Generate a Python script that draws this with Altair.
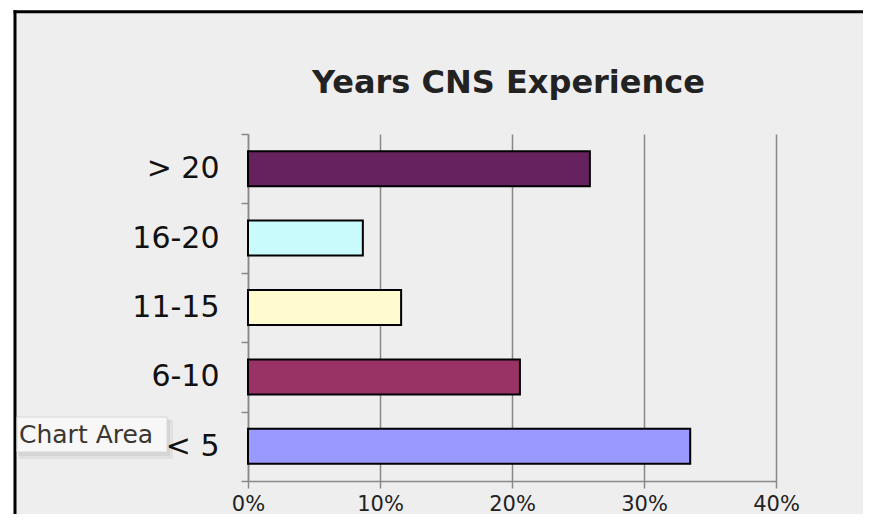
import altair as alt
import pandas as pd

categories = ["> 20", "16-20", "11-15", "6-10", "< 5"]
percents = [25.9, 8.7, 11.6, 20.6, 33.5]
bar_colors = ["#66215f", "#c9fbfc", "#fffbcf", "#993366", "#9999ff"]
x_tick_values = [0, 0.1, 0.2, 0.3, 0.4]
title_text = "Years CNS Experience"
tooltip_text = "Chart Area"

df = pd.DataFrame({
    "cat": categories,
    "pct": [p / 100 for p in percents],
    "color": bar_colors,
})
one = pd.DataFrame({"k": [0]})

W, H = 528, 347
FONT = "DejaVu Sans"

y_enc = alt.Y(
    "cat:N",
    sort=categories,
    scale=alt.Scale(paddingInner=0, paddingOuter=0),
    axis=alt.Axis(
        title=None,
        tickBand="extent",
        domainColor="#888888",
        domainWidth=1.5,
        tickColor="#888888",
        tickWidth=1.5,
        tickSize=7,
        labelFont=FONT,
        labelFontSize=30,
        labelColor="#111111",
        labelPadding=22,
        grid=False,
    ),
)
x_enc = alt.X(
    "pct:Q",
    scale=alt.Scale(domain=[0, 0.4], nice=False),
    axis=alt.Axis(
        title=None,
        values=x_tick_values,
        format="%",
        grid=True,
        gridColor="#888888",
        gridWidth=1.5,
        domainColor="#888888",
        domainWidth=1.5,
        tickColor="#888888",
        tickWidth=1.5,
        tickSize=7,
        labelFont=FONT,
        labelFontSize=21,
        labelColor="#222222",
        labelPadding=5,
        labelFlush=False,
    ),
)

bars = alt.Chart(df).mark_bar(stroke="black", strokeWidth=2, size=35).encode(
    y=y_enc,
    x=x_enc,
    color=alt.Color("color:N", scale=None),
)

# decorative outer frame (white margin + black border)
white_top = alt.Chart(one).mark_rect(color="white").encode(
    x=alt.value(-240), x2=alt.value(640), y=alt.value(-126), y2=alt.value(-124)
)
white_left = alt.Chart(one).mark_rect(color="white").encode(
    x=alt.value(-240), x2=alt.value(-234.5), y=alt.value(-126), y2=alt.value(420)
)
border_top = alt.Chart(one).mark_rule(color="black", strokeWidth=3).encode(
    x=alt.value(-234.5), x2=alt.value(640), y=alt.value(-122.3)
)
border_left = alt.Chart(one).mark_rule(color="black", strokeWidth=3).encode(
    x=alt.value(-233), y=alt.value(-123.8), y2=alt.value(420)
)

# chart title
title = alt.Chart(one).mark_text(
    text=title_text, font=FONT, fontSize=32, fontWeight="bold", color="#222222",
    align="center", baseline="alphabetic",
).encode(x=alt.value(260.5), y=alt.value(-41))

# "Chart Area" tooltip box with soft shadow
shadow1 = alt.Chart(one).mark_rect(color="black", opacity=0.05).encode(
    x=alt.value(-229), x2=alt.value(-75), y=alt.value(286), y2=alt.value(325)
)
shadow2 = alt.Chart(one).mark_rect(color="black", opacity=0.05).encode(
    x=alt.value(-230), x2=alt.value(-78), y=alt.value(285), y2=alt.value(322)
)
tip_box = alt.Chart(one).mark_rect(fill="#f7f7f7", stroke="#d8d8d8", strokeWidth=1).encode(
    x=alt.value(-231), x2=alt.value(-81), y=alt.value(283), y2=alt.value(318)
)
tip_text = alt.Chart(one).mark_text(
    text=tooltip_text, font=FONT, fontSize=25, color="#3a3630",
    align="left", baseline="alphabetic",
).encode(x=alt.value(-229), y=alt.value(309))

chart = alt.layer(
    bars, white_top, white_left, border_top, border_left, title,
    shadow1, shadow2, tip_box, tip_text,
).properties(
    width=W,
    height=H,
    autosize=alt.AutoSizeParams(type="none"),
    padding={"left": 240, "top": 126, "right": 87, "bottom": 33},
    background="#eeeeee",
).configure_view(stroke=None)

chart.save("out.html", embed_options={"renderer": "svg", "actions": False})
